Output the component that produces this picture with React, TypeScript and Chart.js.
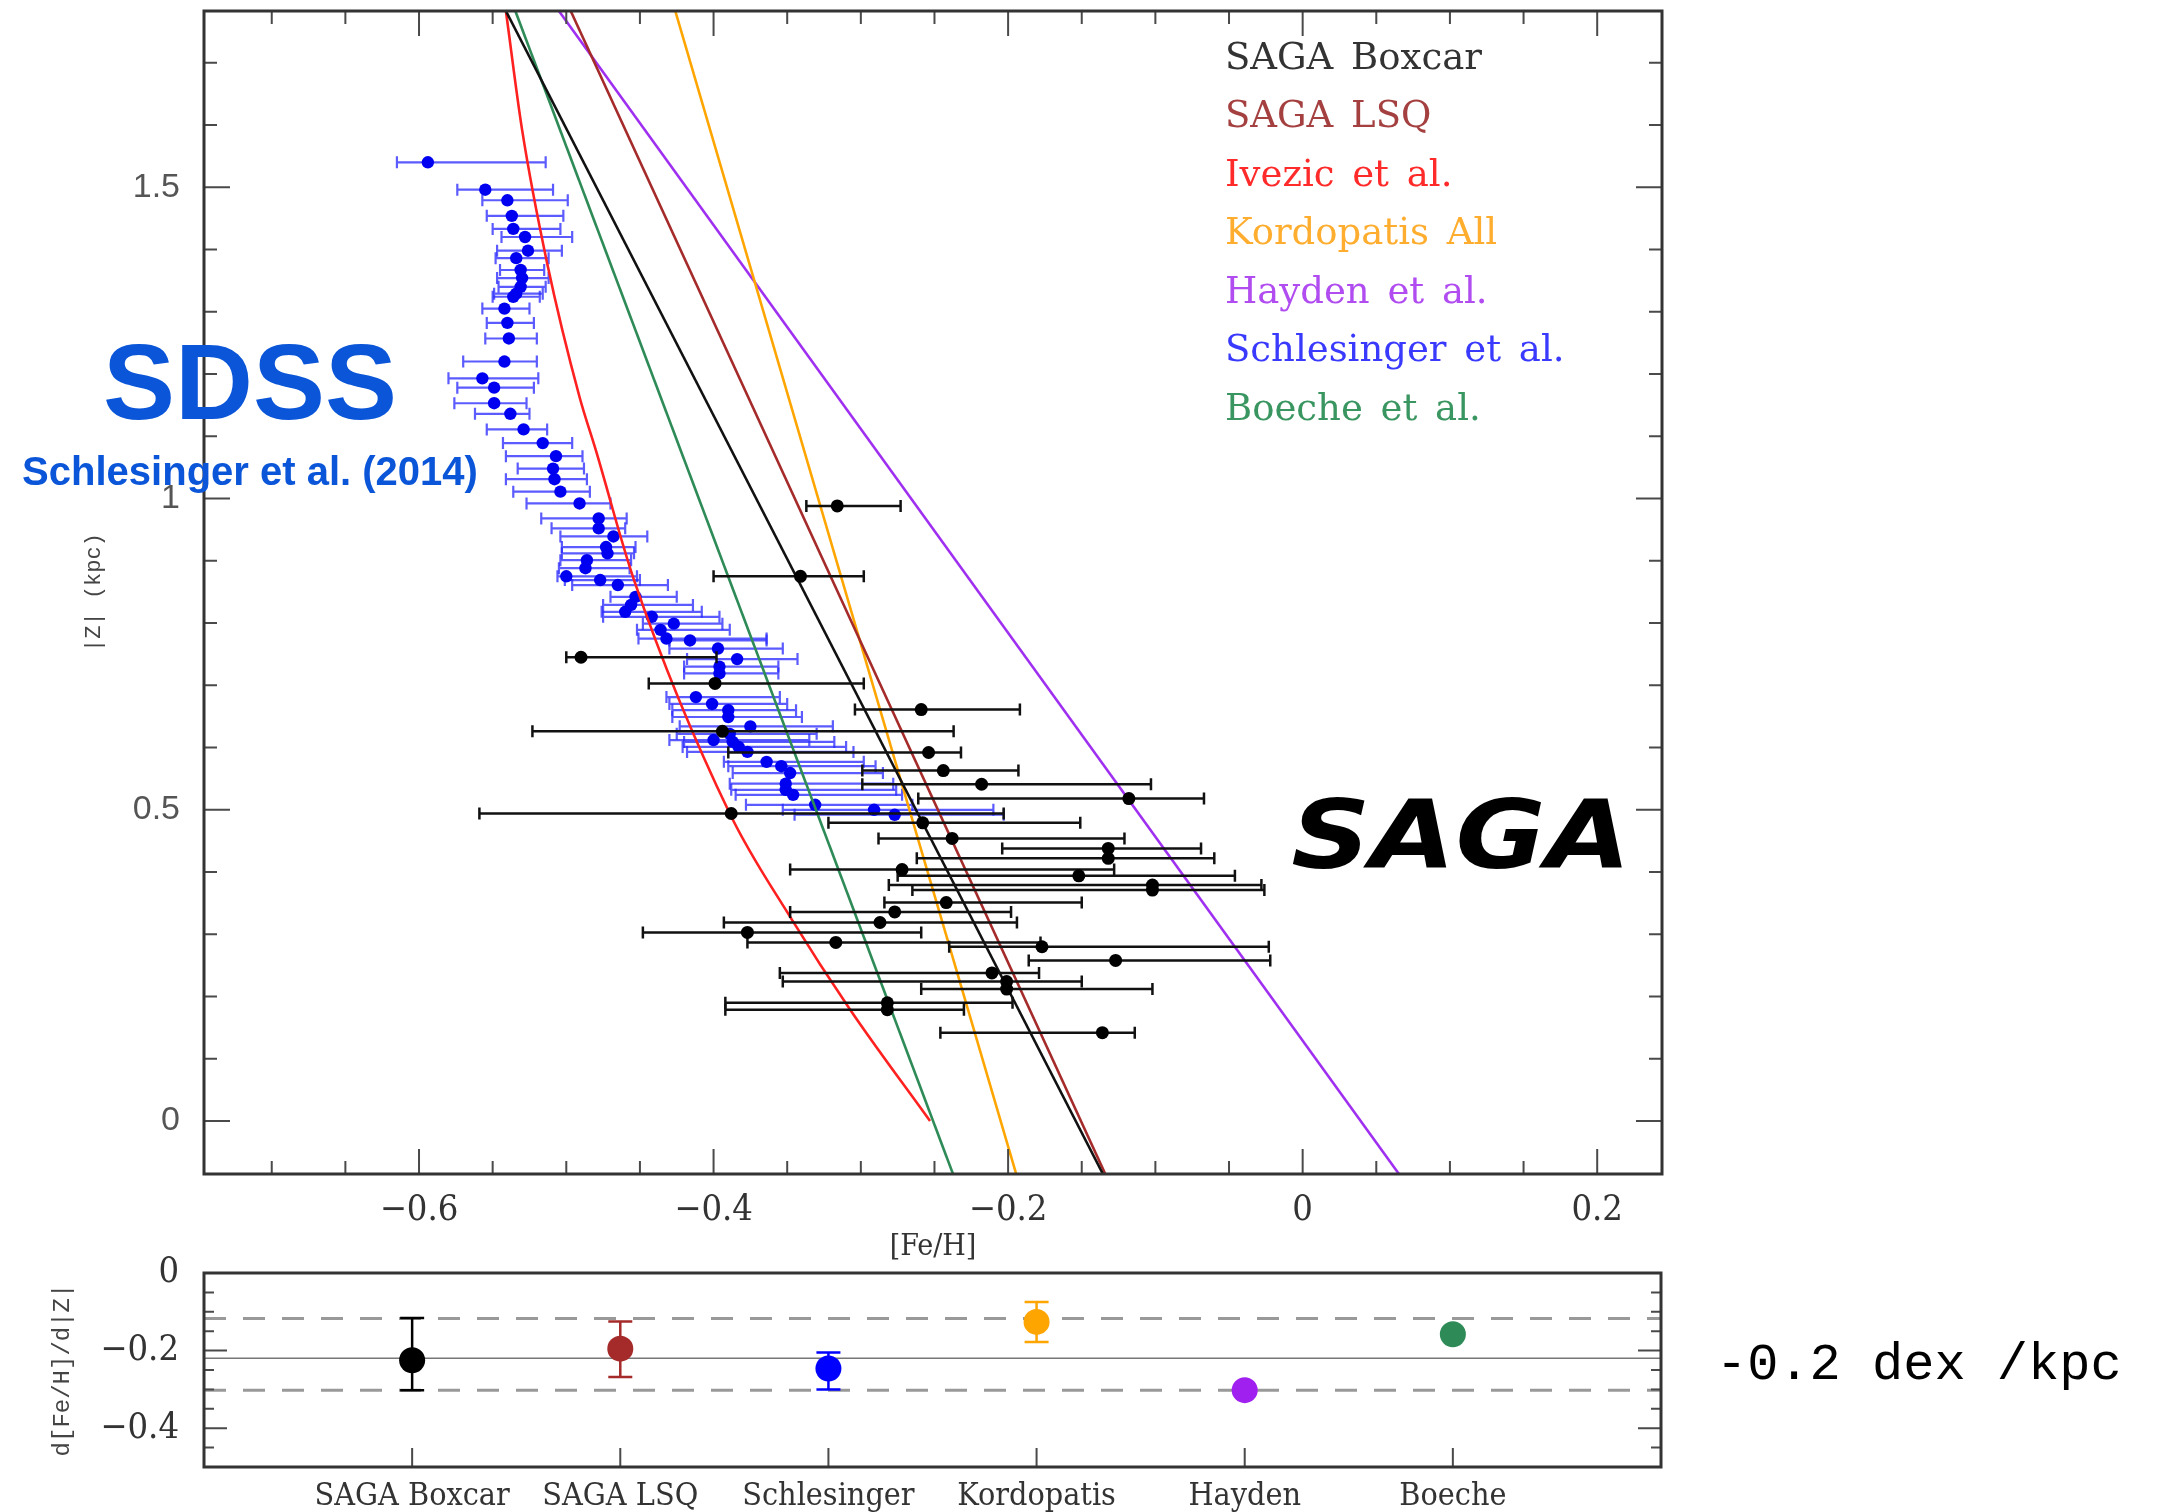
import React, { useEffect, useRef } from "react";
import { Chart, registerables } from "chart.js";

Chart.register(...registerables);

// ---------------- main panel data ----------------
const X_TICKS = [-0.6, -0.4, -0.2, 0, 0.2];
const Y_TICKS = [0, 0.5, 1, 1.5];

// SAGA (black points with horizontal error bars)
const SAGA_FEH = [-0.316, -0.341, -0.490, -0.399, -0.259, -0.394, -0.254, -0.244, -0.218, -0.118, -0.388, -0.258, -0.238, -0.132, -0.132, -0.272, -0.152, -0.102, -0.102, -0.242, -0.277, -0.287, -0.377, -0.317, -0.177, -0.127, -0.211, -0.201, -0.201, -0.282, -0.282, -0.136];
const SAGA_Z = [0.988, 0.875, 0.745, 0.703, 0.661, 0.626, 0.592, 0.563, 0.541, 0.518, 0.494, 0.479, 0.454, 0.438, 0.422, 0.404, 0.394, 0.379, 0.371, 0.351, 0.336, 0.319, 0.303, 0.287, 0.280, 0.258, 0.238, 0.224, 0.212, 0.190, 0.179, 0.142];
const SAGA_LO = [-0.337, -0.400, -0.500, -0.444, -0.304, -0.523, -0.390, -0.299, -0.299, -0.261, -0.559, -0.322, -0.288, -0.204, -0.262, -0.348, -0.275, -0.281, -0.265, -0.284, -0.348, -0.393, -0.448, -0.377, -0.240, -0.186, -0.355, -0.353, -0.259, -0.392, -0.392, -0.246];
const SAGA_HI = [-0.273, -0.298, -0.398, -0.298, -0.192, -0.237, -0.232, -0.193, -0.103, -0.067, -0.203, -0.151, -0.121, -0.069, -0.060, -0.128, -0.046, -0.028, -0.026, -0.150, -0.198, -0.194, -0.259, -0.178, -0.023, -0.022, -0.179, -0.150, -0.102, -0.197, -0.230, -0.114];

// Schlesinger et al. (blue points with horizontal error bars)
const SCH_FEH = [-0.594, -0.555, -0.540, -0.537, -0.536, -0.528, -0.526, -0.534, -0.531, -0.530, -0.531, -0.534, -0.536, -0.542, -0.540, -0.539, -0.542, -0.557, -0.549, -0.549, -0.538, -0.529, -0.516, -0.507, -0.509, -0.508, -0.504, -0.491, -0.478, -0.478, -0.468, -0.473, -0.472, -0.486, -0.487, -0.500, -0.477, -0.465, -0.453, -0.456, -0.460, -0.442, -0.427, -0.436, -0.432, -0.416, -0.397, -0.384, -0.396, -0.396, -0.412, -0.401, -0.390, -0.390, -0.375, -0.389, -0.400, -0.387, -0.383, -0.377, -0.364, -0.354, -0.348, -0.351, -0.351, -0.346, -0.331, -0.291, -0.277];
const SCH_Z = [1.540, 1.496, 1.479, 1.454, 1.433, 1.420, 1.398, 1.386, 1.367, 1.354, 1.340, 1.329, 1.324, 1.305, 1.282, 1.257, 1.220, 1.193, 1.178, 1.153, 1.136, 1.111, 1.089, 1.068, 1.048, 1.031, 1.011, 0.992, 0.968, 0.952, 0.939, 0.922, 0.912, 0.901, 0.888, 0.875, 0.869, 0.861, 0.842, 0.829, 0.818, 0.810, 0.799, 0.789, 0.775, 0.772, 0.759, 0.742, 0.730, 0.719, 0.681, 0.670, 0.660, 0.649, 0.634, 0.622, 0.612, 0.609, 0.601, 0.593, 0.577, 0.570, 0.559, 0.542, 0.532, 0.524, 0.508, 0.500, 0.492];
const SCH_LO = [-0.615, -0.574, -0.557, -0.554, -0.550, -0.544, -0.547, -0.548, -0.545, -0.547, -0.546, -0.549, -0.550, -0.557, -0.554, -0.555, -0.570, -0.580, -0.574, -0.576, -0.562, -0.554, -0.543, -0.541, -0.533, -0.541, -0.536, -0.527, -0.517, -0.510, -0.504, -0.503, -0.503, -0.504, -0.505, -0.506, -0.501, -0.496, -0.470, -0.475, -0.476, -0.475, -0.448, -0.452, -0.451, -0.430, -0.430, -0.418, -0.420, -0.420, -0.432, -0.430, -0.428, -0.428, -0.423, -0.425, -0.430, -0.420, -0.421, -0.418, -0.393, -0.390, -0.387, -0.389, -0.388, -0.385, -0.378, -0.353, -0.345];
const SCH_HI = [-0.514, -0.509, -0.499, -0.502, -0.504, -0.496, -0.503, -0.512, -0.515, -0.512, -0.514, -0.516, -0.518, -0.525, -0.522, -0.520, -0.520, -0.519, -0.522, -0.527, -0.525, -0.513, -0.496, -0.489, -0.488, -0.486, -0.484, -0.470, -0.459, -0.460, -0.445, -0.453, -0.454, -0.456, -0.457, -0.452, -0.450, -0.431, -0.425, -0.414, -0.408, -0.396, -0.394, -0.389, -0.364, -0.364, -0.353, -0.343, -0.356, -0.356, -0.355, -0.350, -0.344, -0.340, -0.319, -0.330, -0.335, -0.318, -0.310, -0.305, -0.298, -0.290, -0.285, -0.278, -0.276, -0.272, -0.265, -0.210, -0.203];

// Gradient lines (endpoints read at the top and bottom of the panel)
const LINE_Z = [1.783, -0.085];
const BOXCAR_LINE = [-0.541, -0.1356];
const LSQ_LINE = [-0.497, -0.134];
const KORDOPATIS_LINE = [-0.426, -0.1945];
const HAYDEN_LINE = [-0.505, 0.0654];
const BOECHE_LINE = [-0.5346, -0.2374];
// Ivezic et al. curve (ordered by increasing [Fe/H])
const IVEZIC_Z = [1.783, 1.592, 1.378, 1.163, 1.078, 0.869, 0.494, 0.328, 0.178, 0.0];
const IVEZIC_FEH = [-0.541, -0.530, -0.513, -0.491, -0.480, -0.454, -0.389, -0.348, -0.307, -0.253];

const LEGEND_LABELS = ["SAGA Boxcar", "SAGA LSQ", "Ivezic et al.", "Kordopatis All", "Hayden et al.", "Schlesinger et al.", "Boeche et al."];
const LEGEND_COLORS = ["#333333", "#a54040", "#ff2a2a", "#ffad2e", "#b04cf0", "#3a3aff", "#3a9660"];

// ---------------- bottom panel data ----------------
const CATEGORIES = ["SAGA Boxcar", "SAGA LSQ", "Schlesinger", "Kordopatis", "Hayden", "Boeche"];
const CAT_POS = [1, 2, 3, 4, 5, 6];
const GRADIENT = [-0.225, -0.195, -0.246, -0.126, -0.302, -0.158];
const GRAD_LO = [-0.302, -0.268, -0.300, -0.178, null, null];
const GRAD_HI = [-0.116, -0.125, -0.205, -0.075, null, null];
const GRAD_COLORS = ["#000000", "#a52a2a", "#0000ff", "#ffa500", "#a020f0", "#2e8b57"];
const MEAN_GRADIENT = -0.22;
const BAND_GRADIENT = [-0.117, -0.302];
const BOTTOM_Y_TICKS = [0, -0.2, -0.4];

const fmt = (v: number) => (v === 0 ? "0" : (v < 0 ? "\u2212" : "") + String(Math.abs(v)));

type TickSpec = { value: number; len: number };

function frameTicks(id: string, xTicks: TickSpec[], yTicks: TickSpec[], sides: { top: boolean; bottom: boolean; left: boolean; right: boolean }) {
  return {
    id,
    afterDraw(chart: any) {
      const { ctx, chartArea: a, scales } = chart;
      ctx.save();
      ctx.strokeStyle = "#4a4a4a";
      ctx.lineWidth = 2;
      ctx.beginPath();
      for (const t of xTicks) {
        const px = scales.x.getPixelForValue(t.value);
        if (sides.bottom) { ctx.moveTo(px, a.bottom); ctx.lineTo(px, a.bottom - t.len); }
        if (sides.top) { ctx.moveTo(px, a.top); ctx.lineTo(px, a.top + t.len); }
      }
      for (const t of yTicks) {
        const py = scales.y.getPixelForValue(t.value);
        if (sides.left) { ctx.moveTo(a.left, py); ctx.lineTo(a.left + t.len, py); }
        if (sides.right) { ctx.moveTo(a.right, py); ctx.lineTo(a.right - t.len, py); }
      }
      ctx.stroke();
      ctx.lineWidth = 3;
      ctx.strokeStyle = "#333";
      ctx.strokeRect(a.left, a.top, a.right - a.left, a.bottom - a.top);
      ctx.restore();
    },
  };
}

const errorBars = {
  id: "errorBars",
  beforeDatasetDraw(chart: any, args: any) {
    const ds = chart.data.datasets[args.index];
    const eb = ds.errorBars;
    if (!eb) return;
    const { ctx, chartArea: a, scales } = chart;
    ctx.save();
    ctx.beginPath();
    ctx.rect(a.left, a.top, a.right - a.left, a.bottom - a.top);
    ctx.clip();
    ctx.lineWidth = eb.width;
    ds.data.forEach((p: any, i: number) => {
      if (p.lo == null || p.hi == null) return;
      ctx.strokeStyle = Array.isArray(eb.color) ? eb.color[i] : eb.color;
      ctx.beginPath();
      if (eb.axis === "x") {
        const y = scales.y.getPixelForValue(p.y);
        const x1 = scales.x.getPixelForValue(p.lo);
        const x2 = scales.x.getPixelForValue(p.hi);
        ctx.moveTo(x1, y); ctx.lineTo(x2, y);
        ctx.moveTo(x1, y - eb.cap); ctx.lineTo(x1, y + eb.cap);
        ctx.moveTo(x2, y - eb.cap); ctx.lineTo(x2, y + eb.cap);
      } else {
        const x = scales.x.getPixelForValue(p.x);
        const y1 = scales.y.getPixelForValue(p.lo);
        const y2 = scales.y.getPixelForValue(p.hi);
        ctx.moveTo(x, y1); ctx.lineTo(x, y2);
        ctx.moveTo(x - eb.cap, y1); ctx.lineTo(x + eb.cap, y1);
        ctx.moveTo(x - eb.cap, y2); ctx.lineTo(x + eb.cap, y2);
      }
      ctx.stroke();
    });
    ctx.restore();
  },
};

function mainTicks() {
  const xs: TickSpec[] = [];
  for (let k = -14; k <= 4; k++) xs.push({ value: k * 0.05, len: k % 4 === 0 ? 25 : 13 });
  const ys: TickSpec[] = [];
  for (let k = 0; k <= 17; k++) ys.push({ value: k * 0.1, len: k % 5 === 0 ? 26 : 13 });
  return frameTicks("mainFrame", xs, ys, { top: true, bottom: true, left: true, right: true });
}

function bottomTicks() {
  const xs: TickSpec[] = CAT_POS.map((v) => ({ value: v, len: 19 }));
  const ys: TickSpec[] = [];
  for (let k = 0; k >= -9; k--) ys.push({ value: k * 0.05, len: k % 4 === 0 ? 23 : 10 });
  return frameTicks("bottomFrame", xs, ys, { top: false, bottom: true, left: true, right: true });
}

function lineDs(label: string, feh: number[], z: number[], color: string, smooth = false) {
  return {
    label,
    data: z.map((zz, i) => ({ x: feh[i], y: zz })),
    showLine: true,
    borderColor: color,
    borderWidth: 2.6,
    pointRadius: 0,
    fill: false,
    cubicInterpolationMode: smooth ? "monotone" : "default",
  };
}

const noEdgePadding = (s: any) => {
  s.paddingTop = 0;
  s.paddingBottom = 0;
  s.paddingLeft = 0;
  s.paddingRight = 0;
};

function MainChart() {
  const ref = useRef<HTMLCanvasElement>(null);
  useEffect(() => {
    const datasets: any[] = [
      {
        label: "SAGA",
        data: SAGA_FEH.map((x, i) => ({ x, y: SAGA_Z[i], lo: SAGA_LO[i], hi: SAGA_HI[i] })),
        backgroundColor: "#000",
        borderWidth: 0,
        pointRadius: 6.5,
        errorBars: { axis: "x", color: "#111", width: 2.5, cap: 6 },
      },
      lineDs("SAGA Boxcar", BOXCAR_LINE, LINE_Z, "#111111"),
      lineDs("SAGA LSQ", LSQ_LINE, LINE_Z, "#a52a2a"),
      lineDs("Ivezic et al.", IVEZIC_FEH, IVEZIC_Z, "#ff2020", true),
      lineDs("Kordopatis All", KORDOPATIS_LINE, LINE_Z, "#ffa500"),
      lineDs("Hayden et al.", HAYDEN_LINE, LINE_Z, "#a030f0"),
      lineDs("Boeche et al.", BOECHE_LINE, LINE_Z, "#2e8b57"),
      {
        label: "Schlesinger",
        data: SCH_FEH.map((x, i) => ({ x, y: SCH_Z[i], lo: SCH_LO[i], hi: SCH_HI[i] })),
        backgroundColor: "#0000f0",
        borderWidth: 0,
        pointRadius: 6.2,
        errorBars: { axis: "x", color: "rgba(45,45,255,0.78)", width: 2.2, cap: 6 },
      },
    ];
    const chart = new Chart(ref.current!, {
      type: "scatter",
      data: { datasets },
      options: {
        responsive: false,
        animation: false,
        devicePixelRatio: 1,
        events: [],
        layout: { padding: { left: 0, right: 496, top: 11, bottom: 0 } },
        plugins: { legend: { display: false }, tooltip: { enabled: false } },
        scales: {
          x: {
            type: "linear",
            min: -0.746,
            max: 0.244,
            grid: { display: false, drawTicks: false },
            border: { display: false },
            afterBuildTicks: (s: any) => { s.ticks = X_TICKS.map((v) => ({ value: v })); },
            afterFit: (s: any) => { s.height = 91; noEdgePadding(s); },
            ticks: {
              autoSkip: false,
              maxRotation: 0,
              padding: 15,
              color: "#333",
              font: { family: "'DejaVu Serif Condensed', 'Liberation Serif', serif", size: 36 },
              callback: (v: any) => fmt(Number(v)),
            },
            title: {
              display: true,
              text: "[Fe/H]",
              color: "#333",
              font: { family: "'DejaVu Serif Condensed', 'Liberation Serif', serif", size: 30 },
              padding: { top: 0, bottom: 0 },
            },
          },
          y: {
            type: "linear",
            min: -0.085,
            max: 1.783,
            grid: { display: false, drawTicks: false },
            border: { display: false },
            afterBuildTicks: (s: any) => { s.ticks = Y_TICKS.map((v) => ({ value: v })); },
            afterFit: (s: any) => { s.width = 204; noEdgePadding(s); },
            ticks: {
              autoSkip: false,
              padding: 24,
              color: "#555",
              font: { family: "'Liberation Sans', sans-serif", size: 34 },
              callback: (v: any) => fmt(Number(v)),
            },
            title: {
              display: true,
              text: "|Z| (kpc)",
              color: "#444",
              font: { family: "'Liberation Mono', monospace", size: 22 },
              padding: { top: 81, bottom: 0 },
            },
          },
        },
      } as any,
      plugins: [errorBars, mainTicks()],
    });
    return () => chart.destroy();
  }, []);
  return (
    <canvas
      ref={ref}
      width={2158}
      height={1265}
      style={{ position: "absolute", left: 0, top: 0, width: 2158, height: 1265 }}
    />
  );
}

function BottomChart() {
  const ref = useRef<HTMLCanvasElement>(null);
  useEffect(() => {
    const datasets: any[] = [
      {
        label: "gradients",
        data: CAT_POS.map((x, i) => ({ x, y: GRADIENT[i], lo: GRAD_LO[i], hi: GRAD_HI[i] })),
        backgroundColor: GRAD_COLORS,
        borderWidth: 0,
        pointRadius: 13,
        errorBars: { axis: "y", color: GRAD_COLORS, width: 2.5, cap: 12 },
      },
      {
        label: "mean",
        data: [{ x: 0, y: MEAN_GRADIENT }, { x: 7, y: MEAN_GRADIENT }],
        showLine: true,
        borderColor: "#777",
        borderWidth: 1.5,
        pointRadius: 0,
      },
      ...BAND_GRADIENT.map((b) => ({
        label: "band",
        data: [{ x: 0, y: b }, { x: 7, y: b }],
        showLine: true,
        borderColor: "#999",
        borderWidth: 3,
        borderDash: [22, 17],
        pointRadius: 0,
      })),
    ];
    const chart = new Chart(ref.current!, {
      type: "scatter",
      data: { datasets },
      options: {
        responsive: false,
        animation: false,
        devicePixelRatio: 1,
        events: [],
        layout: { padding: { left: 0, right: 497, top: 60, bottom: 0 } },
        plugins: { legend: { display: false }, tooltip: { enabled: false } },
        scales: {
          x: {
            type: "linear",
            min: 0,
            max: 7,
            grid: { display: false, drawTicks: false },
            border: { display: false },
            afterBuildTicks: (s: any) => { s.ticks = CAT_POS.map((v) => ({ value: v })); },
            afterFit: (s: any) => { s.height = 45; noEdgePadding(s); },
            ticks: {
              autoSkip: false,
              maxRotation: 0,
              padding: 10,
              color: "#333",
              font: { family: "'DejaVu Serif Condensed', 'Liberation Serif', serif", size: 32 },
              callback: (v: any) => CATEGORIES[Number(v) - 1] ?? "",
            },
          },
          y: {
            type: "linear",
            min: -0.5,
            max: 0,
            grid: { display: false, drawTicks: false },
            border: { display: false },
            afterBuildTicks: (s: any) => { s.ticks = BOTTOM_Y_TICKS.map((v) => ({ value: v })); },
            afterFit: (s: any) => { s.width = 204; noEdgePadding(s); },
            ticks: {
              autoSkip: false,
              padding: 25,
              color: "#333",
              font: { family: "'DejaVu Serif Condensed', 'Liberation Serif', serif", size: 36 },
              callback: (v: any) => fmt(Number(v)),
            },
            title: {
              display: true,
              text: "d[Fe/H]/d|Z|",
              color: "#444",
              font: { family: "'Liberation Mono', monospace", size: 24 },
              padding: { top: 48, bottom: 0 },
            },
          },
        },
      } as any,
      plugins: [errorBars, bottomTicks()],
    });
    return () => chart.destroy();
  }, []);
  return (
    <canvas
      ref={ref}
      width={2158}
      height={299}
      style={{ position: "absolute", left: 0, top: 1213, width: 2158, height: 299 }}
    />
  );
}

const LEGEND_Y = [56, 114, 173, 231, 290, 348, 407];

export default function App() {
  return (
    <div style={{ position: "absolute", left: 0, top: 0, width: 2158, height: 1512, background: "#fff", overflow: "hidden" }}>
      <MainChart />
      <BottomChart />
      {LEGEND_LABELS.map((t, i) => (
        <div
          key={t}
          style={{
            position: "absolute",
            left: 1225,
            top: LEGEND_Y[i],
            transform: "translateY(-50%)",
            fontFamily: "'DejaVu Serif', serif",
            fontSize: 37,
            lineHeight: 1,
            color: LEGEND_COLORS[i],
            whiteSpace: "pre",
            wordSpacing: 6,
          }}
        >
          {t}
        </div>
      ))}
      <div
        style={{
          position: "absolute", left: 250, top: 382, transform: "translate(-50%,-50%)",
          fontFamily: "'Liberation Sans', Arial, sans-serif", fontWeight: 700, fontSize: 108, lineHeight: 1,
          color: "#0a55d8", whiteSpace: "pre",
        }}
      >
        SDSS
      </div>
      <div
        style={{
          position: "absolute", left: 250, top: 471, transform: "translate(-50%,-50%)",
          fontFamily: "'Liberation Sans', Arial, sans-serif", fontWeight: 700, fontSize: 40, lineHeight: 1,
          color: "#0a55d8", whiteSpace: "pre",
        }}
      >
        Schlesinger et al. (2014)
      </div>
      <div
        style={{
          position: "absolute", left: 1461, top: 836, transform: "translate(-50%,-50%) scaleX(1.17)",
          fontFamily: "'DejaVu Sans', sans-serif", fontWeight: 700, fontStyle: "oblique", fontSize: 94, lineHeight: 1,
          color: "#000", whiteSpace: "pre",
        }}
      >
        SAGA
      </div>
      <div
        style={{
          position: "absolute", left: 1716, top: 1366, transform: "translateY(-50%)",
          fontFamily: "'Liberation Mono', monospace", fontSize: 52, lineHeight: 1,
          color: "#000", whiteSpace: "pre",
        }}
      >
        -0.2 dex /kpc
      </div>
    </div>
  );
}
